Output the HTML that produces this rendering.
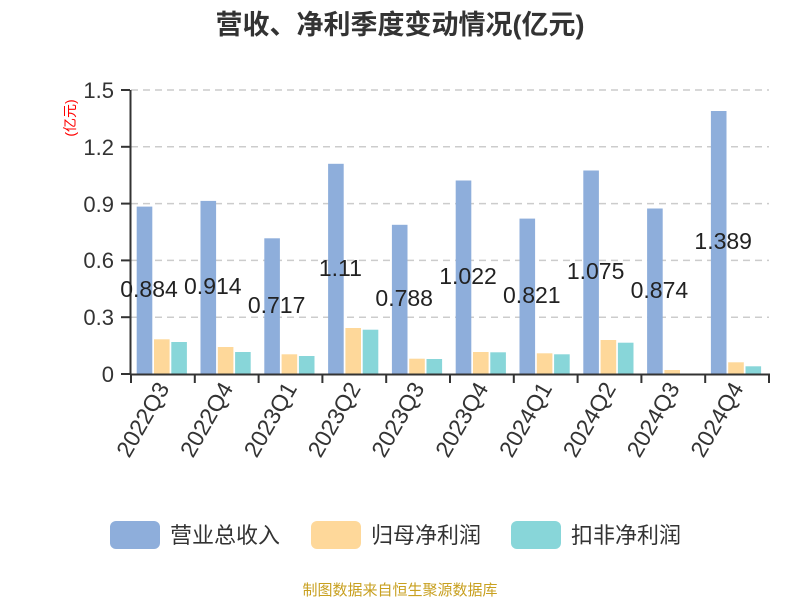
<!DOCTYPE html>
<html><head><meta charset="utf-8"><style>
html,body{margin:0;padding:0;background:#fff;}
svg text{font-family:"Liberation Sans","Noto Sans CJK SC",sans-serif;}
</style></head><body>
<svg width="800" height="600" xmlns="http://www.w3.org/2000/svg">
<text x="400" y="34" text-anchor="middle" font-size="27" font-weight="bold" fill="#333">营收、净利季度变动情况(亿元)</text>
<text transform="translate(75,118) rotate(-90)" text-anchor="middle" font-size="14" fill="#f00">(亿元)</text>
<g stroke="#ccc" stroke-width="1.5" stroke-dasharray="7,5">
<line x1="131" y1="90" x2="769" y2="90"/>
<line x1="131" y1="146.8" x2="769" y2="146.8"/>
<line x1="131" y1="203.6" x2="769" y2="203.6"/>
<line x1="131" y1="260.4" x2="769" y2="260.4"/>
<line x1="131" y1="317.2" x2="769" y2="317.2"/>
</g>
<g font-size="22" fill="#333" text-anchor="end">
<text x="114" y="98">1.5</text><text x="114" y="155">1.2</text><text x="114" y="212">0.9</text>
<text x="114" y="268">0.6</text><text x="114" y="325">0.3</text><text x="114" y="382">0</text>
</g>
<g fill="#8eaedb">
<rect x="136.7" y="206.6" width="15.6" height="167.4"/>
<rect x="200.5" y="200.9" width="15.6" height="173.1"/>
<rect x="264.3" y="238.3" width="15.6" height="135.7"/>
<rect x="328.1" y="163.8" width="15.6" height="210.2"/>
<rect x="391.9" y="224.8" width="15.6" height="149.2"/>
<rect x="455.7" y="180.5" width="15.6" height="193.5"/>
<rect x="519.5" y="218.6" width="15.6" height="155.4"/>
<rect x="583.3" y="170.5" width="15.6" height="203.5"/>
<rect x="647.1" y="208.5" width="15.6" height="165.5"/>
<rect x="710.9" y="111.0" width="15.6" height="263.0"/>
</g>
<g fill="#fed89a">
<rect x="154" y="339.3" width="15.6" height="34.7"/>
<rect x="217.8" y="347" width="15.6" height="27"/>
<rect x="281.6" y="354.3" width="15.6" height="19.7"/>
<rect x="345.4" y="328" width="15.6" height="46"/>
<rect x="409.2" y="358.7" width="15.6" height="15.3"/>
<rect x="473" y="352" width="15.6" height="22"/>
<rect x="536.8" y="353.3" width="15.6" height="20.7"/>
<rect x="600.6" y="340" width="15.6" height="34"/>
<rect x="664.4" y="370" width="15.6" height="4"/>
<rect x="728.2" y="362.3" width="15.6" height="11.7"/>
</g>
<g fill="#88d6d9">
<rect x="171.3" y="342" width="15.6" height="32"/>
<rect x="235.1" y="352" width="15.6" height="22"/>
<rect x="298.9" y="356" width="15.6" height="18"/>
<rect x="362.7" y="329.7" width="15.6" height="44.3"/>
<rect x="426.5" y="359" width="15.6" height="15"/>
<rect x="490.3" y="352.3" width="15.6" height="21.7"/>
<rect x="554.1" y="354.3" width="15.6" height="19.7"/>
<rect x="617.9" y="342.7" width="15.6" height="31.3"/>
<rect x="745.5" y="366.3" width="15.6" height="7.7"/>
</g>
<g stroke="#333" stroke-width="2">
<line x1="130.5" y1="90" x2="130.5" y2="375"/>
<line x1="121" y1="90" x2="130" y2="90"/><line x1="121" y1="146.8" x2="130" y2="146.8"/>
<line x1="121" y1="203.6" x2="130" y2="203.6"/><line x1="121" y1="260.4" x2="130" y2="260.4"/>
<line x1="121" y1="317.2" x2="130" y2="317.2"/><line x1="121" y1="374" x2="130" y2="374"/>
<line x1="130" y1="374.5" x2="770" y2="374.5"/>
<line x1="131" y1="374" x2="131" y2="383"/><line x1="194.8" y1="374" x2="194.8" y2="383"/>
<line x1="258.6" y1="374" x2="258.6" y2="383"/><line x1="322.4" y1="374" x2="322.4" y2="383"/>
<line x1="386.2" y1="374" x2="386.2" y2="383"/><line x1="450" y1="374" x2="450" y2="383"/>
<line x1="513.8" y1="374" x2="513.8" y2="383"/><line x1="577.6" y1="374" x2="577.6" y2="383"/>
<line x1="641.4" y1="374" x2="641.4" y2="383"/><line x1="705.2" y1="374" x2="705.2" y2="383"/>
<line x1="769" y1="374" x2="769" y2="383"/>
</g>
<g font-size="23" fill="#222" text-anchor="middle">
<text x="149" y="297">0.884</text>
<text x="212.8" y="294">0.914</text>
<text x="276.6" y="313">0.717</text>
<text x="340.4" y="276">1.11</text>
<text x="404.2" y="306">0.788</text>
<text x="468" y="284">1.022</text>
<text x="531.8" y="303">0.821</text>
<text x="595.6" y="279">1.075</text>
<text x="659.4" y="298">0.874</text>
<text x="723.2" y="249">1.389</text>
</g>
<g font-size="23" fill="#333" text-anchor="end">
<text transform="translate(170,388) rotate(-60)">2022Q3</text>
<text transform="translate(233.8,388) rotate(-60)">2022Q4</text>
<text transform="translate(297.6,388) rotate(-60)">2023Q1</text>
<text transform="translate(361.4,388) rotate(-60)">2023Q2</text>
<text transform="translate(425.2,388) rotate(-60)">2023Q3</text>
<text transform="translate(489,388) rotate(-60)">2023Q4</text>
<text transform="translate(552.8,388) rotate(-60)">2024Q1</text>
<text transform="translate(616.6,388) rotate(-60)">2024Q2</text>
<text transform="translate(680.4,388) rotate(-60)">2024Q3</text>
<text transform="translate(744.2,388) rotate(-60)">2024Q4</text>
</g>
<rect x="110" y="521" width="50" height="28" rx="6" fill="#8eaedb"/>
<text x="170" y="543" font-size="22" fill="#333">营业总收入</text>
<rect x="311" y="521" width="50" height="28" rx="6" fill="#fed89a"/>
<text x="371" y="543" font-size="22" fill="#333">归母净利润</text>
<rect x="511" y="521" width="50" height="28" rx="6" fill="#88d6d9"/>
<text x="571" y="543" font-size="22" fill="#333">扣非净利润</text>
<text x="400" y="595" text-anchor="middle" font-size="15" fill="#c8a020">制图数据来自恒生聚源数据库</text>
</svg>
</body></html>
